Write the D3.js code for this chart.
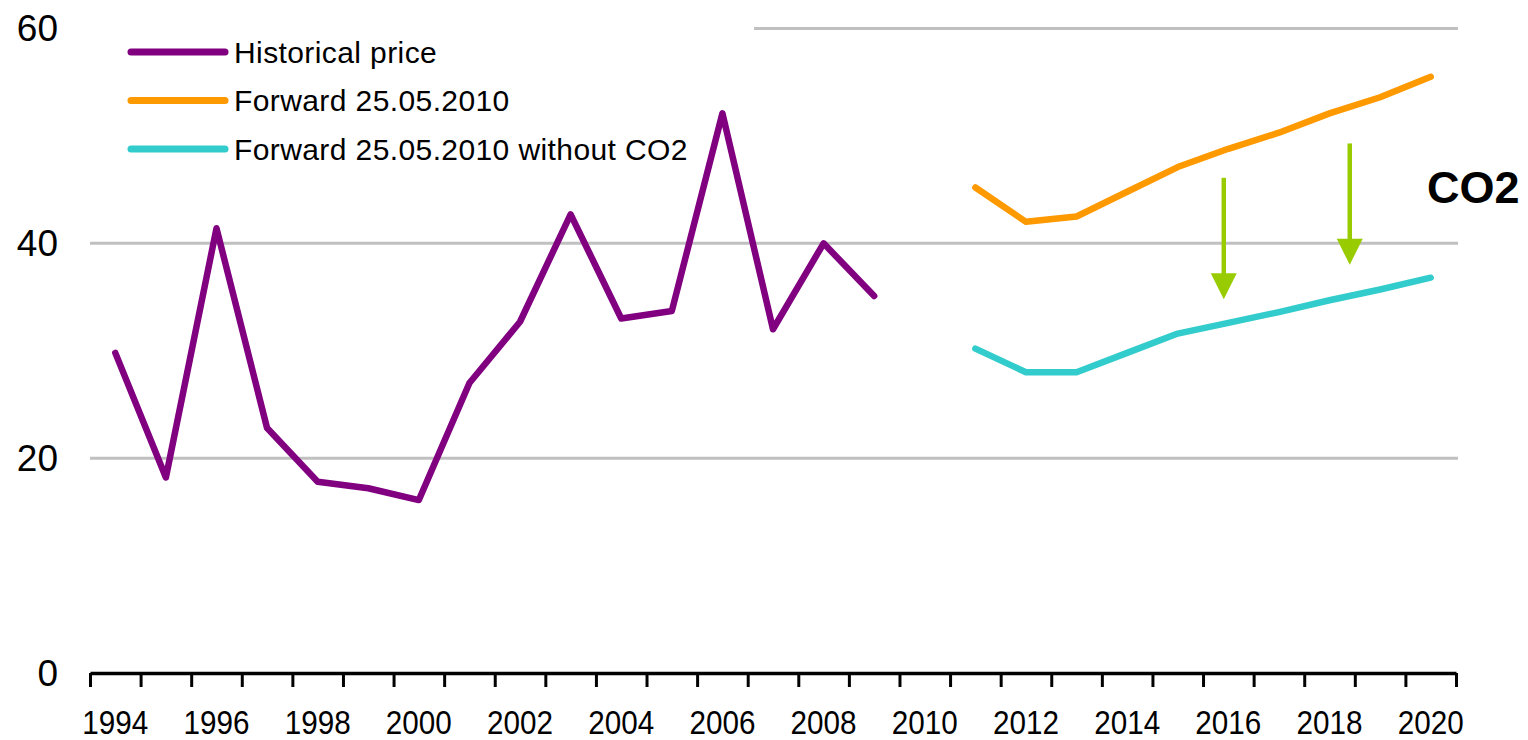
<!DOCTYPE html>
<html>
<head>
<meta charset="utf-8">
<script src="https://cdn.jsdelivr.net/npm/d3@7"></script>
<style>
  html, body { margin: 0; padding: 0; background: #fff; }
  svg { display: block; font-family: "Liberation Sans", Arial, sans-serif; }
</style>
</head>
<body>
<svg id="chart" width="1528" height="740"></svg>
<script>
// Categories: one per year
const years = d3.range(1994, 2021);
const yearLabels = years.filter(y => y % 2 === 0);
const yTicks = [0, 20, 40, 60];

// Series
const historicalYears = d3.range(1994, 2010);
const historical = [29.8, 18.2, 41.4, 22.8, 17.8, 17.2, 16.1, 27.0, 32.7, 42.7, 33.0, 33.7, 52.1, 32.0, 40.0, 35.1];

const forwardYears = d3.range(2011, 2021);
const forward = [45.2, 42.0, 42.5, 44.8, 47.1, 48.8, 50.3, 52.1, 53.6, 55.5];
const forwardNoCO2 = [30.2, 28.0, 28.0, 29.8, 31.6, 32.6, 33.6, 34.7, 35.7, 36.8];

const seriesNames = ["Historical price", "Forward 25.05.2010", "Forward 25.05.2010 without CO2"];
const seriesColors = ["#800080", "#FF9900", "#33CCCC"];

// CO2 effect arrows: [year position, from value, to value]
const co2Arrows = [[2015.91, 46.1, 34.8], [2018.4, 49.3, 38.0]];

const svg = d3.select("#chart");
const plotLeft = 90, plotRight = 1456, plotTop = 28.5, plotBottom = 673;

const x = d3.scaleBand().domain(years).range([plotLeft, plotRight]).padding(0);
const xPos = d3.scaleLinear().domain([1993.5, 2020.5]).range([plotLeft, plotRight]);
const y = d3.scaleLinear().domain([0, 60]).range([plotBottom, plotTop]);

// Gridlines
svg.append("g")
  .selectAll("line")
  .data(yTicks.filter(v => v > 0))
  .join("line")
  .attr("x1", plotLeft).attr("x2", plotRight + 2)
  .attr("y1", d => y(d)).attr("y2", d => y(d))
  .attr("stroke", "#C0C0C0").attr("stroke-width", 3);

// Y labels
svg.append("g")
  .selectAll("text")
  .data(yTicks)
  .join("text")
  .attr("x", 58).attr("y", d => y(d))
  .attr("text-anchor", "end")
  .attr("dominant-baseline", "central")
  .attr("font-size", 37)
  .attr("fill", "#000")
  .text(d => d);

// X axis: boundary ticks
const tickAxis = d3.axisBottom(xPos)
  .tickValues(d3.range(1993.5, 2021.5, 1))
  .tickSize(14)
  .tickSizeOuter(0)
  .tickFormat("");
const gx = svg.append("g").attr("transform", `translate(0,${plotBottom})`).call(tickAxis);
gx.select(".domain").attr("stroke", "#000").attr("stroke-width", 3.5);
gx.selectAll(".tick line").attr("stroke", "#000").attr("stroke-width", 3);

// X labels every other year, centred on the category
const labelAxis = d3.axisBottom(x).tickValues(yearLabels).tickSize(0).tickPadding(0);
const gl = svg.append("g").attr("transform", `translate(0,${plotBottom})`).call(labelAxis);
gl.select(".domain").remove();
gl.selectAll(".tick text")
  .attr("font-size", 33)
  .attr("font-family", "Liberation Sans, Arial, sans-serif")
  .attr("fill", "#000")
  .attr("dy", 0)
  .attr("y", 61)
  .attr("textLength", 66)
  .attr("lengthAdjust", "spacingAndGlyphs");

// Legend (white panel hides the top gridline behind it)
svg.append("rect")
  .attr("x", plotLeft).attr("y", 10).attr("width", 664).attr("height", 40)
  .attr("fill", "#fff");

const line = d3.line()
  .x(d => x(d[0]) + x.bandwidth() / 2)
  .y(d => y(d[1]));

function drawSeries(yrs, vals, color) {
  svg.append("path")
    .datum(yrs.map((yr, i) => [yr, vals[i]]))
    .attr("d", line)
    .attr("fill", "none")
    .attr("stroke", color)
    .attr("stroke-width", 6.5)
    .attr("stroke-linejoin", "round")
    .attr("stroke-linecap", "round");
}
drawSeries(historicalYears, historical, seriesColors[0]);
drawSeries(forwardYears, forward, seriesColors[1]);
drawSeries(forwardYears, forwardNoCO2, seriesColors[2]);

const legend = svg.append("g");
seriesNames.forEach((name, i) => {
  const ly = 52 + i * 48.5;
  legend.append("line")
    .attr("x1", 131).attr("x2", 225).attr("y1", ly).attr("y2", ly)
    .attr("stroke", seriesColors[i]).attr("stroke-width", 7)
    .attr("stroke-linecap", "round");
  legend.append("text")
    .attr("x", 234).attr("y", ly)
    .attr("dominant-baseline", "central")
    .attr("font-size", 30)
    .attr("letter-spacing", 0.4)
    .attr("fill", "#000")
    .text(name);
});

// CO2 arrows
const arrowColor = "#99CC00";
co2Arrows.forEach(([pos, from, to]) => {
  const ax = xPos(pos);
  const tipY = y(to);
  const headH = 26, headW = 26;
  svg.append("line")
    .attr("x1", ax).attr("x2", ax)
    .attr("y1", y(from)).attr("y2", tipY - headH + 2)
    .attr("stroke", arrowColor).attr("stroke-width", 4.5);
  svg.append("path")
    .attr("d", `M${ax - headW / 2},${tipY - headH} L${ax + headW / 2},${tipY - headH} L${ax},${tipY} Z`)
    .attr("fill", arrowColor);
});

svg.append("text")
  .attr("x", 1427).attr("y", 187)
  .attr("dominant-baseline", "central")
  .attr("font-size", 45)
  .attr("font-weight", "bold")
  .attr("fill", "#000")
  .text("CO2");
</script>
</body>
</html>
